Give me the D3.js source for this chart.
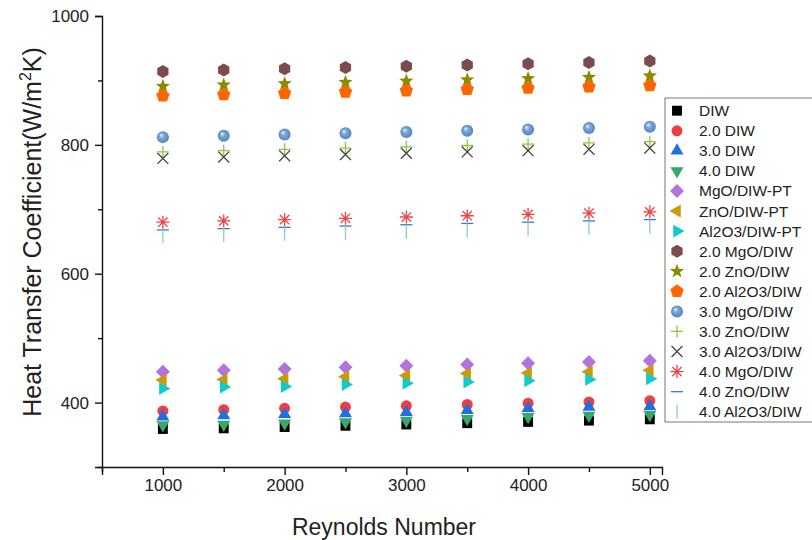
<!DOCTYPE html>
<html>
<head>
<meta charset="utf-8">
<script src="https://cdn.jsdelivr.net/npm/d3@7"></script>
<style>
  body { margin: 0; background: #fff; }
  text { font-family: Arial, "Liberation Sans", sans-serif; fill: #222; }
</style>
</head>
<body>
<svg id="chart"></svg>
<script>
// values
const reynolds = [1000, 1500, 2000, 2500, 3000, 3500, 4000, 4500, 5000]
const diw      = [359, 360, 362, 364, 366, 368, 370, 372, 374]
const diw20    = [387, 389, 391, 393, 395, 397, 399, 401, 403]
const diw30    = [378, 380, 382, 383, 385, 388, 391, 393, 394]
const diw40    = [365, 366, 368, 370, 372, 375, 378, 380, 381]
const mgoPT    = [448, 450, 452, 455, 457, 459, 461, 463, 465]
const znoPT    = [435, 436, 437, 440, 442, 445, 446, 448, 450]
const al2o3PT  = [422, 424, 425, 428, 430, 432, 434, 436, 437]
const mgo20    = [914, 916, 918, 920, 922, 924, 926, 928, 930]
const zno20    = [891, 893, 895, 897, 899, 901, 903, 905, 907]
const al2o320  = [876, 878, 880, 882, 884, 886, 888, 890, 892]
const mgo30    = [812, 814, 816, 818, 820, 822, 824, 826, 828]
const zno30    = [789, 791, 793, 795, 797, 799, 801, 803, 805]
const al2o330  = [779, 781, 783, 785, 787, 789, 791, 793, 795]
const mgo40    = [680, 682, 684, 686, 688, 690, 692, 694, 696]
const zno40    = [668, 670, 672, 674, 676, 678, 680, 682, 684]
const al2o340  = [658, 660, 662, 663, 665, 667, 669, 671, 673]

const seriesNames = ["DIW", "2.0 DIW", "3.0 DIW", "4.0 DIW", "MgO/DIW-PT", "ZnO/DIW-PT",
  "Al2O3/DIW-PT", "2.0 MgO/DIW", "2.0 ZnO/DIW", "2.0 Al2O3/DIW", "3.0 MgO/DIW",
  "3.0 ZnO/DIW", "3.0 Al2O3/DIW", "4.0 MgO/DIW", "4.0 ZnO/DIW", "4.0 Al2O3/DIW"]
const seriesValues = [diw, diw20, diw30, diw40, mgoPT, znoPT, al2o3PT, mgo20, zno20,
  al2o320, mgo30, zno30, al2o330, mgo40, zno40, al2o340]

const xTicks = [1000, 2000, 3000, 4000, 5000]
const xMinor = [500, 1500, 2500, 3500, 4500]
const yTicks = [400, 600, 800, 1000]
const yMinor = [300, 500, 700, 900]

const width = 812, height = 540
const margin = {left: 102, top: 16, right: 150, bottom: 73}

// marker shapes, size = radius
const polygon = (n, rot) => ({draw(ctx, r) {
  for (let i = 0; i < n; i++) {
    const a = rot + 2 * Math.PI * i / n
    const px = r * Math.sin(a), py = -r * Math.cos(a)
    i ? ctx.lineTo(px, py) : ctx.moveTo(px, py)
  }
  ctx.closePath()
}})
const star = {draw(ctx, r) {
  for (let i = 0; i < 10; i++) {
    const a = Math.PI * i / 5, rr = i % 2 ? r * 0.42 : r
    const px = rr * Math.sin(a), py = -rr * Math.cos(a)
    i ? ctx.lineTo(px, py) : ctx.moveTo(px, py)
  }
  ctx.closePath()
}}
const circle = {draw(ctx, r) { ctx.moveTo(r, 0); ctx.arc(0, 0, r, 0, 2 * Math.PI) }}
const plus = {draw(ctx, r) { ctx.moveTo(-r, 0); ctx.lineTo(r, 0); ctx.moveTo(0, -r); ctx.lineTo(0, r) }}
const cross = {draw(ctx, r) { const d = r * 0.78
  ctx.moveTo(-d, -d); ctx.lineTo(d, d); ctx.moveTo(-d, d); ctx.lineTo(d, -d) }}
const asterisk = {draw(ctx, r) { plus.draw(ctx, r); cross.draw(ctx, r * 0.92) }}
const dash = {draw(ctx, r) { ctx.moveTo(-r, 0); ctx.lineTo(r, 0) }}
const bar = {draw(ctx, r) { ctx.moveTo(0, -r); ctx.lineTo(0, r) }}

const styles = [
  {type: polygon(4, Math.PI / 4), r: 7, fill: "#000"},
  {type: circle, r: 5.5, fill: "#ef3e42"},
  {type: polygon(3, 0), r: 7.5, fill: "#1f6fe0"},
  {type: polygon(3, Math.PI), r: 7.5, fill: "#35a86a"},
  {type: polygon(4, 0), r: 7, fill: "#b373de"},
  {type: polygon(3, -Math.PI / 2), r: 7.5, fill: "#cc9a06"},
  {type: polygon(3, Math.PI / 2), r: 7.5, fill: "#0fcbcb"},
  {type: polygon(6, 0), r: 6.5, fill: "#7b4b4e"},
  {type: star, r: 7.5, fill: "#8b8b00"},
  {type: polygon(5, 0), r: 7, fill: "#ff6600"},
  {type: circle, r: 6, fill: "url(#sphere)"},
  {type: plus, r: 6, stroke: "#8cc63f"},
  {type: cross, r: 7, stroke: "#444"},
  {type: asterisk, r: 6.5, stroke: "#ee4444"},
  {type: dash, r: 6, stroke: "#3377dd"},
  {type: bar, r: 7, stroke: "#8ecfb0"}
]

const svg = d3.select("#chart").attr("width", width).attr("height", height)

const grad = svg.append("defs").append("radialGradient")
  .attr("id", "sphere").attr("cx", "50%").attr("cy", "50%").attr("r", "55%")
  .attr("fx", "35%").attr("fy", "32%")
grad.append("stop").attr("offset", "0%").attr("stop-color", "#f2f7fc")
grad.append("stop").attr("offset", "35%").attr("stop-color", "#7eaad8")
grad.append("stop").attr("offset", "100%").attr("stop-color", "#4b7fbd")

const x = d3.scaleLinear().domain([500, 5100]).range([margin.left, width - margin.right])
const y = d3.scaleLinear().domain([300, 1000]).range([height - margin.bottom, margin.top])

const drawMarker = (sel, i) => {
  const s = styles[i]
  sel.attr("d", d3.symbol().type(s.type).size(s.r)())
    .attr("fill", s.fill || "none")
    .attr("stroke", s.stroke || "none")
    .attr("stroke-width", s.stroke ? 1.3 : 0)
}

// axes
const xAxis = svg.append("g").attr("transform", `translate(0,${y(300)})`)
xAxis.call(d3.axisBottom(x).tickValues(xTicks).tickSize(8).tickPadding(4).tickFormat(d3.format("d")))
xAxis.append("g").call(d3.axisBottom(x).tickValues(xMinor).tickSize(5).tickFormat(""))
  .select(".domain").remove()

const yAxis = svg.append("g").attr("transform", `translate(${x(500)},0)`)
yAxis.call(d3.axisLeft(y).tickValues(yTicks).tickSize(7).tickPadding(6).tickFormat(d3.format("d")))
yAxis.append("g").call(d3.axisLeft(y).tickValues(yMinor).tickSize(4).tickFormat(""))
  .select(".domain").remove()

svg.selectAll(".domain").attr("stroke", "#111").attr("stroke-width", 1.4)
svg.selectAll(".tick line").attr("stroke", "#111").attr("stroke-width", 1.4)
svg.selectAll(".tick text").style("font-size", "17px").attr("fill", "#222")
  .style("font-family", "Arial, 'Liberation Sans', sans-serif")

svg.append("text")
  .attr("x", (x(500) + x(5100)) / 2 + 2).attr("y", 535)
  .attr("text-anchor", "middle").style("font-size", "23px")
  .text("Reynolds Number")

const yTitle = svg.append("text")
  .attr("transform", `translate(41,${232}) rotate(-90)`)
  .attr("text-anchor", "middle").style("font-size", "25px")
yTitle.append("tspan").text("Heat Transfer Coefficient(W/m")
yTitle.append("tspan").attr("dy", -10).style("font-size", "16px").text("2")
yTitle.append("tspan").attr("dy", 10).text("K)")

// points
seriesValues.forEach((vals, i) => {
  svg.append("g").selectAll("path")
    .data(vals.map((v, j) => ({re: reynolds[j], v})))
    .join("path")
    .attr("transform", d => `translate(${x(d.re)},${y(d.v)})`)
    .call(drawMarker, i)
})

// legend
const legend = svg.append("g").attr("transform", "translate(665,98)")
legend.append("rect").attr("width", 200).attr("height", 324)
  .attr("fill", "#fff").attr("stroke", "#777").attr("stroke-width", 1)
seriesNames.forEach((name, i) => {
  const row = legend.append("g").attr("transform", `translate(0,${12.7 + i * 20.07})`)
  row.append("path").attr("transform", "translate(12,0)").call(drawMarker, i)
  row.append("text").attr("x", 34).attr("y", 5.5).style("font-size", "15.5px").text(name)
})
</script>
</body>
</html>
